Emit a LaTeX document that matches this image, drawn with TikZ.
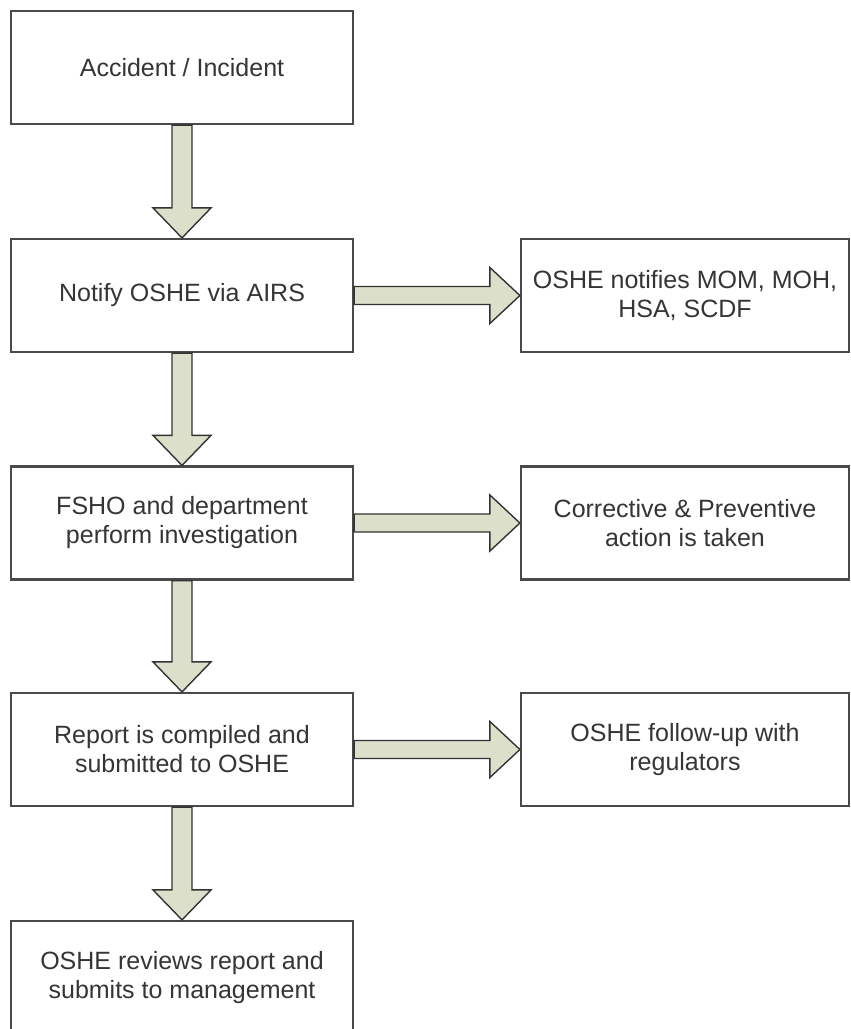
\documentclass[tikz,border=0pt]{standalone}
\usepackage{fontspec}
\setmainfont{Liberation Sans}
\usepackage{tikz}
\usetikzlibrary{positioning, calc}

\definecolor{boxline}{HTML}{4A4A4A}
\definecolor{arrowfill}{HTML}{DCDFCA}
\definecolor{textgray}{HTML}{353535}

\tikzset{
  stepbox/.style={shape=rectangle, draw=boxline, line width=2.2pt, fill=white,
    minimum width=342pt, minimum height=113pt, align=center, text=textgray,
    font=\fontsize{25}{29}\selectfont, inner sep=0pt},
  sidebox/.style={stepbox, minimum width=328pt},
  flowarrow/.style={draw=black!80, line width=1.4pt, fill=arrowfill, line join=miter}
}

% block arrows between named boxes
\newcommand{\flowdown}[2]{%
  \draw[flowarrow] let \p1=(#1.south), \p2=(#2.north) in
    (\x1-10pt,\y1) -- (\x1-10pt,\y2+30pt) -- (\x1-29pt,\y2+30pt) -- (\x1,\y2)
    -- (\x1+29pt,\y2+30pt) -- (\x1+10pt,\y2+30pt) -- (\x1+10pt,\y1) -- cycle;}
\newcommand{\flowright}[2]{%
  \draw[flowarrow] let \p1=(#1.east), \p2=(#2.west) in
    (\x1,\y1+9pt) -- (\x2-30pt,\y1+9pt) -- (\x2-30pt,\y1+28pt) -- (\x2,\y1)
    -- (\x2-30pt,\y1-28pt) -- (\x2-30pt,\y1-9pt) -- (\x1,\y1-9pt) -- cycle;}

\begin{document}
\begin{tikzpicture}[x=1pt, y=-1pt]
    \useasboundingbox (0,0) rectangle (851,1029);

    \node[stepbox] (accident) at (182,67.5) {Accident / Incident};
    \node[stepbox] (notify) at (182,295.5) {Notify OSHE via AIRS};
    \node[stepbox] (investigate) at (182,523) {FSHO and department\\perform investigation};
    \node[stepbox] (report) at (182,749.5) {Report is compiled and\\submitted to OSHE};
    \node[stepbox] (review) at (182,977.5) {OSHE reviews report and\\submits to management};

    \node[sidebox] (regulators) at (685,295.5) {OSHE notifies MOM, MOH,\\HSA, SCDF};
    \node[sidebox] (action) at (685,523) {Corrective \& Preventive\\action is taken};
    \node[sidebox] (followup) at (685,749.5) {OSHE follow-up with\\regulators};

    \flowdown{accident}{notify}
    \flowdown{notify}{investigate}
    \flowdown{investigate}{report}
    \flowdown{report}{review}

    \flowright{notify}{regulators}
    \flowright{investigate}{action}
    \flowright{report}{followup}

\end{tikzpicture}
\end{document}
